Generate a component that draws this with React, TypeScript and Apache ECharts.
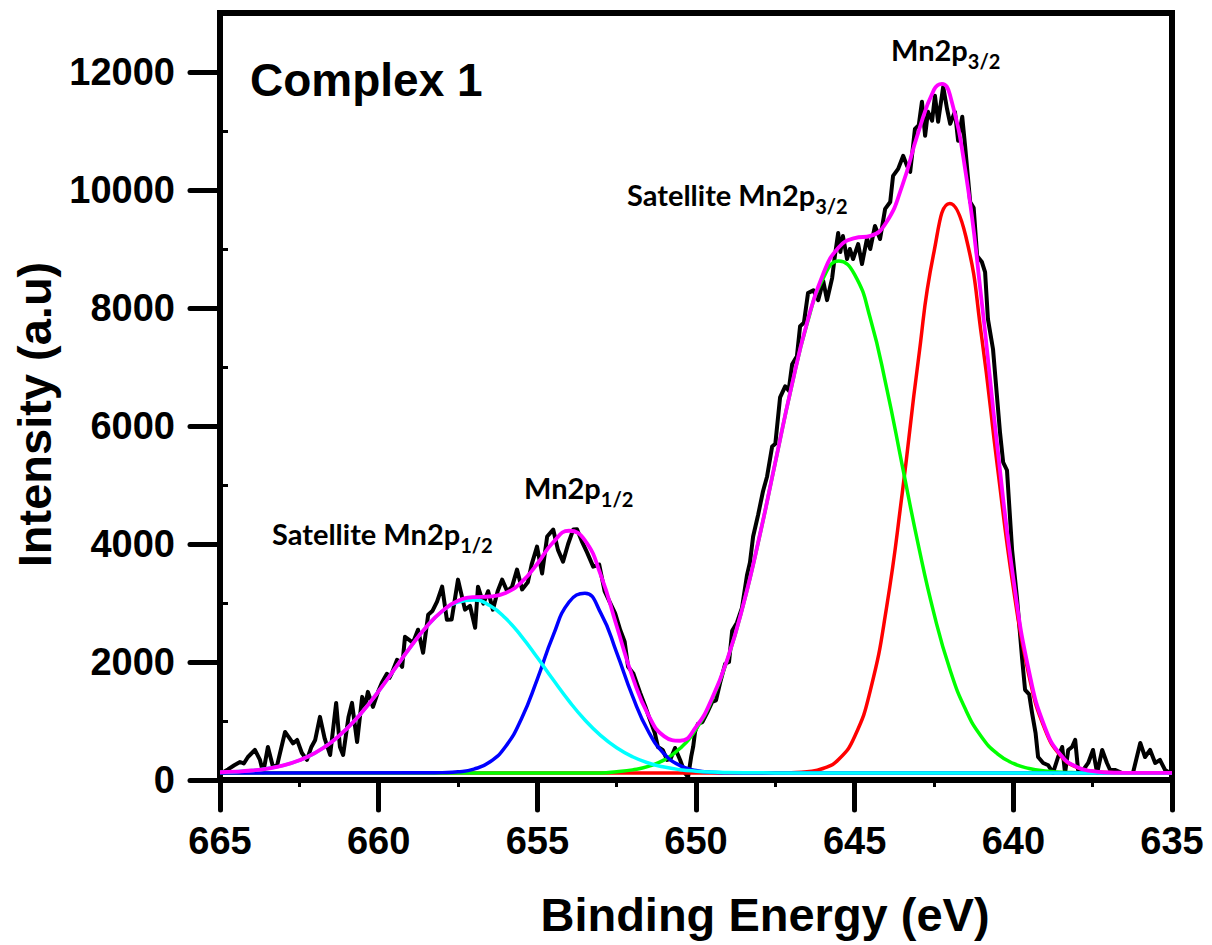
import React, { useEffect, useRef } from 'react';
import * as echarts from 'echarts';

// ---------- tick values ----------
const intensityTicks = [0, 2000, 4000, 6000, 8000, 10000, 12000];
const intensityMinorTicks = [1000, 3000, 5000, 7000, 9000, 11000];

// ---------- raw spectrum (black) [binding energy, intensity] ----------
const rawSpectrum: [number, number][] = [
  [664.94, 119], [664.75, 180], [664.55, 250], [664.37, 305], [664.25, 280], [664.12, 390],
  [663.9, 509], [663.74, 340], [663.64, 119], [663.49, 560], [663.33, 220], [663.2, 250],
  [662.95, 815], [662.8, 700], [662.7, 620], [662.57, 679], [662.42, 458], [662.26, 340],
  [662.12, 560], [662.0, 679], [661.85, 1070], [661.7, 700], [661.53, 424], [661.34, 1307],
  [661.22, 560], [661.12, 424], [660.95, 1070], [660.84, 1307], [660.68, 645], [660.52, 1409],
  [660.43, 1240], [660.34, 1494], [660.18, 1240], [660.02, 1494], [659.9, 1647], [659.74, 1800],
  [659.66, 1730], [659.58, 1817], [659.42, 2038], [659.26, 1919], [659.17, 2428], [659.05, 2380],
  [658.92, 2326], [658.76, 2547], [658.6, 2156], [658.44, 2802], [658.3, 2870], [658.16, 3022],
  [658.0, 3277], [657.85, 2717], [657.7, 2720], [657.5, 3396], [657.28, 2887], [657.12, 2950],
  [656.96, 2581], [656.87, 3277], [656.7, 2990], [656.55, 3200], [656.4, 2887], [656.25, 3200],
  [656.11, 3396], [655.95, 3200], [655.8, 3270], [655.64, 3566], [655.48, 3230], [655.3, 3350],
  [655.18, 3650], [655.01, 3956], [654.85, 3500], [654.69, 4126], [654.5, 4245], [654.35, 3900],
  [654.19, 3702], [654.03, 4000], [653.87, 4245], [653.75, 4250], [653.6, 4050], [653.43, 3854],
  [653.24, 3617], [653.05, 3650], [652.88, 3200], [652.71, 3005], [652.55, 2830], [652.39, 2547],
  [652.25, 2350], [652.14, 1919], [651.97, 1800], [651.76, 1477], [651.6, 1250], [651.45, 1019],
  [651.3, 800], [651.2, 560], [651.05, 510], [650.91, 340], [650.8, 360], [650.66, 543],
  [650.5, 340], [650.35, 119], [650.25, 51], [650.15, 400], [650.09, 560], [650.03, 815],
  [649.94, 951], [649.8, 980], [649.65, 1138], [649.49, 1324], [649.37, 1350], [649.24, 1647],
  [649.08, 1970], [648.96, 2000], [648.86, 2530], [648.71, 2666], [648.55, 2921], [648.39, 3481],
  [648.3, 3685], [648.2, 4126], [648.04, 4500], [647.89, 4890], [647.76, 5145], [647.6, 5654],
  [647.5, 5700], [647.35, 6486], [647.19, 6673], [647.08, 6600], [646.97, 7047], [646.82, 7183],
  [646.72, 7692], [646.6, 7750], [646.47, 8252], [646.3, 8300], [646.15, 8133], [645.99, 8456],
  [645.87, 8133], [645.71, 8507], [645.62, 8897], [645.52, 9271], [645.45, 8950], [645.37, 9220],
  [645.24, 8830], [645.15, 9000], [645.05, 8830], [644.89, 9084], [644.77, 8745], [644.61, 9180],
  [644.51, 9000], [644.36, 9390], [644.2, 9169], [644.04, 9679], [643.88, 9797], [643.79, 10239],
  [643.63, 10358], [643.47, 10579], [643.35, 10409], [643.25, 10307], [643.1, 11037], [642.98, 11100],
  [642.88, 11495], [642.78, 10918], [642.69, 11326], [642.56, 11173], [642.47, 11597], [642.37, 11156],
  [642.21, 11750], [642.09, 11377], [641.99, 11122], [641.84, 11326], [641.74, 10833], [641.61, 11241],
  [641.52, 10748], [641.36, 9797], [641.25, 9700], [641.14, 8880], [640.99, 8779], [640.89, 8609],
  [640.8, 7811], [640.64, 7301], [640.42, 5892], [640.32, 5383], [640.2, 5250], [640.04, 3905],
  [639.88, 3056], [639.72, 2038], [639.63, 1528], [639.5, 1450], [639.41, 1138], [639.3, 800],
  [639.22, 390], [639.06, 289], [638.9, 250], [638.75, 119], [638.59, 390], [638.46, 560],
  [638.37, 119], [638.27, 509], [638.15, 560], [638.05, 679], [637.96, 170], [637.8, 170],
  [637.64, 289], [637.49, 509], [637.36, 119], [637.2, 509], [637.05, 289], [636.95, 170],
  [636.8, 170], [636.57, 119], [636.23, 119], [636.0, 628], [635.85, 390], [635.69, 509],
  [635.53, 289], [635.38, 340], [635.22, 170], [635.06, 119],
];

// ---------- fitted components ----------
// Mn2p3/2 (red)
const fitMn2p32: [number, number][] = [
  [665, 120], [648, 120], [647.5, 121], [647, 125], [646.5, 141], [646, 195], [645.5, 351],
  [645, 737], [644.5, 1533], [644, 2907], [643.5, 4865], [643, 7091], [642.5, 8952],
  [642, 9773], [641.5, 9220], [641, 7516], [640.5, 5306], [640, 3258], [639.5, 1754],
  [639, 856], [638.5, 406], [638, 215], [637.5, 147], [637, 127], [636.5, 121], [636, 120], [635, 120],
];
// Satellite Mn2p3/2 (green)
const fitSatMn2p32: [number, number][] = [
  [665, 120], [653, 120], [652.5, 140], [652, 172], [651.5, 231], [651, 341], [650.5, 537],
  [650, 858], [649.5, 1352], [649, 2056], [648.5, 2989], [648, 4123], [647.5, 5385],
  [647, 6640], [646.5, 7732], [646, 8494], [645.5, 8797], [645, 8567], [644.5, 7809],
  [644, 6665], [643.5, 5330], [643, 3998], [642.5, 2820], [642, 1876], [641.5, 1189],
  [641, 729], [640.5, 444], [640, 281], [639.5, 195], [639, 152], [638.5, 133], [638, 125],
  [637.5, 121], [635, 120],
];
// Mn2p1/2 (blue)
const fitMn2p12: [number, number][] = [
  [665, 120], [658.5, 121], [658, 125], [657.5, 139], [657, 185], [656.5, 305], [656, 568],
  [655.5, 1037], [655, 1710], [654.5, 2452], [654, 3017], [653.5, 3165], [653, 2829],
  [652.5, 2161], [652, 1422], [651.5, 822], [651, 441], [650.5, 244], [650, 161],
  [649.5, 131], [649, 123], [648.5, 120], [635, 120],
];
// Satellite Mn2p1/2 (cyan)
const fitSatMn2p12: [number, number][] = [
  [665, 131], [664.5, 141], [664, 161], [663.5, 194], [663, 248], [662.5, 334], [662, 460],
  [661.5, 637], [661, 872], [660.5, 1164], [660, 1506], [659.5, 1878], [659, 2252],
  [658.5, 2592], [658, 2857], [657.5, 3018], [657, 3052], [656.5, 2956], [656, 2741],
  [655.5, 2436], [655, 2075], [654.5, 1698], [654, 1337], [653.5, 1017], [653, 752],
  [652.5, 546], [652, 394], [651.5, 288], [651, 219], [650.5, 175], [650, 150], [649.5, 135],
  [649, 128], [648, 122], [647, 120], [635, 120],
];
// Envelope (magenta)
const fitEnvelope: [number, number][] = [
  [665, 131], [664.5, 141], [664, 161], [663.5, 194], [663, 248], [662.5, 334], [662, 460],
  [661.5, 637], [661, 872], [660.5, 1164], [660, 1506], [659.5, 1878], [659, 2252],
  [658.5, 2592], [658, 2862], [657.5, 3037], [657, 3100], [656.5, 3110], [656, 3170],
  [655.5, 3353], [655, 3665], [654.5, 4030], [654, 4225], [653.5, 4062], [653, 3471],
  [652.5, 2610], [652, 1748], [651.5, 1101], [651, 740], [650.5, 665], [650, 900],
  [649.5, 1378], [649, 2067], [648.5, 2992], [648, 4125], [647.5, 5386], [647, 6645],
  [646.5, 7753], [646, 8569], [645.5, 9031], [645, 9184], [644.5, 9222], [644, 9452],
  [643.5, 10075], [643, 10969], [642.5, 11700], [642.25, 11800], [642, 11620], [641.5, 10289],
  [641, 8125], [640.5, 5630], [640, 3419], [639.5, 1829], [639, 888], [638.5, 419], [638, 220],
  [637.5, 149], [637, 127], [636.5, 122], [636, 120], [635, 120],
];

// ---------- annotation texts ----------
const peakNames = ['Mn2p', 'Satellite Mn2p', 'Mn2p', 'Satellite Mn2p'];
const peakSubs = ['3/2', '3/2', '1/2', '1/2'];

const AXIS_FONT = '"Liberation Sans", Arial, sans-serif';
const NOTE_FONT = 'Lato, "Open Sans", sans-serif';

function note(i: number, left: number, top: number) {
  return {
    type: 'text',
    left,
    top,
    style: {
      text: `{m|${peakNames[i]}}{s|${peakSubs[i]}}`,
      rich: {
        m: { fontSize: 29, fontWeight: 'bold', fontFamily: NOTE_FONT, fill: '#000', lineHeight: 32, verticalAlign: 'top' },
        s: { fontSize: 20, fontWeight: 'bold', fontFamily: NOTE_FONT, fill: '#000', lineHeight: 20, verticalAlign: 'top', padding: [16, 0, 0, 0] },
      },
    },
  };
}

function lineSeries(name: string, data: [number, number][], color: string, smooth: boolean, width: number) {
  return {
    name,
    type: 'line',
    data,
    smooth: smooth ? 0.5 : false,
    showSymbol: false,
    symbol: 'none',
    lineStyle: { color, width, join: 'round' },
    itemStyle: { color },
    emphasis: { disabled: true },
    z: 2,
  };
}

export default function App() {
  const ref = useRef<HTMLDivElement>(null);

  useEffect(() => {
    document.body.style.margin = '0';
    if (!ref.current) return;
    const chart = echarts.init(ref.current, null, { renderer: 'svg' });
    const option: any = {
      animation: false,
      backgroundColor: '#fff',
      grid: {
        left: 220, right: 40, top: 13, bottom: 165,
        show: true, borderColor: '#000', borderWidth: 6,
        outerBoundsMode: 'none',
      },
      xAxis: [
        {
          type: 'value', min: 635, max: 665, interval: 5, inverse: true, position: 'bottom',
          axisLine: { show: true, onZero: false, lineStyle: { color: '#000', width: 6 } },
          axisTick: { show: true, length: 30, lineStyle: { color: '#000', width: 5, cap: 'round' } },
          minorTick: { show: true, splitNumber: 2, length: 7, lineStyle: { color: '#000', width: 3 } },
          axisLabel: { fontSize: 38, fontWeight: 'bold', fontFamily: AXIS_FONT, color: '#000', margin: 42 },
          splitLine: { show: false }, minorSplitLine: { show: false },
          name: 'Binding Energy (eV)', nameLocation: 'middle', nameGap: 111,
          nameTextStyle: { fontSize: 47, fontWeight: 'bold', fontFamily: AXIS_FONT, color: '#000', padding: [0, 0, 0, 138] },
        },
      ],
      yAxis: [
        {
          type: 'value', min: 0, max: 13000, interval: 2000, position: 'left',
          axisLine: { show: true, onZero: false, lineStyle: { color: '#000', width: 6 } },
          axisTick: { show: true, length: 30, customValues: intensityTicks, lineStyle: { color: '#000', width: 5, cap: 'round' } },
          axisLabel: {
            customValues: intensityTicks, fontSize: 38, fontWeight: 'bold', fontFamily: AXIS_FONT, color: '#000', margin: 45,
            formatter: (v: number) => String(v),
          },
          splitLine: { show: false },
          name: 'Intensity (a.u)', nameLocation: 'middle', nameGap: 154,
          nameTextStyle: { fontSize: 47, fontWeight: 'bold', fontFamily: AXIS_FONT, color: '#000', padding: [0, 36, 0, 0] },
        },
        {
          type: 'value', min: 0, max: 13000, position: 'left',
          axisLine: { show: false },
          axisTick: { show: true, inside: true, length: 8, customValues: intensityMinorTicks, lineStyle: { color: '#000', width: 3 } },
          axisLabel: { show: false },
          splitLine: { show: false },
        },
      ],
      series: [
        lineSeries('Raw', rawSpectrum, '#000000', false, 4),
        lineSeries('Mn2p3/2', fitMn2p32, '#ff0000', true, 3.5),
        lineSeries('Satellite Mn2p3/2', fitSatMn2p32, '#00ff00', true, 3.5),
        lineSeries('Mn2p1/2', fitMn2p12, '#0000ff', true, 3.5),
        lineSeries('Satellite Mn2p1/2', fitSatMn2p12, '#00ffff', true, 3.5),
        lineSeries('Envelope', fitEnvelope, '#ff00ff', true, 3.8),
      ],
      graphic: [
        {
          type: 'text', left: 250, top: 57,
          style: { text: 'Complex 1', fontSize: 46, fontWeight: 'bold', fontFamily: AXIS_FONT, fill: '#000' },
        },
        note(0, 891, 35),
        note(1, 627, 180),
        note(2, 524, 473),
        note(3, 272, 519),
      ],
    };
    chart.setOption(option);
    return () => chart.dispose();
  }, []);

  return <div ref={ref} style={{ width: 1212, height: 945 }} />;
}
